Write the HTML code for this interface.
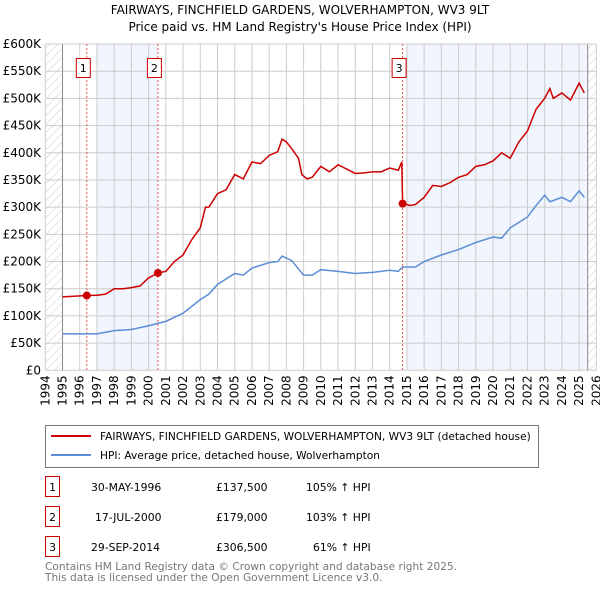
<!DOCTYPE html><html><head><meta charset="utf-8"><style>
body{margin:0;background:#fff;font-family:"Liberation Sans","DejaVu Sans",sans-serif}
</style></head><body>
<svg width="600" height="590" xmlns="http://www.w3.org/2000/svg" font-family="DejaVu Sans, Liberation Sans, sans-serif">
<defs><pattern id="h" width="6" height="6" patternUnits="userSpaceOnUse" patternTransform="rotate(45)"><line x1="0" y1="0" x2="0" y2="6" stroke="#ccc" stroke-width="1"/></pattern></defs>
<text x="300" y="14" text-anchor="middle" font-size="12">FAIRWAYS, FINCHFIELD GARDENS, WOLVERHAMPTON, WV3 9LT</text>
<text x="300" y="31" text-anchor="middle" font-size="12">Price paid vs. HM Land Registry's House Price Index (HPI)</text>
<g id="plot"></g>
<g>
<rect x="45.5" y="425.5" width="493" height="42" fill="#fff" stroke="#777"/>
<line x1="51" y1="436" x2="91" y2="436" stroke="#cc0000" stroke-width="2"/>
<text x="100" y="440" font-size="10.6">FAIRWAYS, FINCHFIELD GARDENS, WOLVERHAMPTON, WV3 9LT (detached house)</text>
<line x1="51" y1="455" x2="91" y2="455" stroke="#5b8ed6" stroke-width="2"/>
<text x="100" y="459" font-size="10.6">HPI: Average price, detached house, Wolverhampton</text>
</g>
<g font-size="10.8">
<rect x="45.5" y="476.5" width="14" height="20" fill="#fff" stroke="#cc0000"/><text x="52.5" y="491" text-anchor="middle">1</text>
<text x="91" y="491">30-MAY-1996</text><text x="216" y="491">£137,500</text><text x="306" y="491">105% ↑ HPI</text>
<rect x="45.5" y="506.5" width="14" height="20" fill="#fff" stroke="#cc0000"/><text x="52.5" y="521" text-anchor="middle">2</text>
<text x="95" y="521">17-JUL-2000</text><text x="216" y="521">£179,000</text><text x="306" y="521">103% ↑ HPI</text>
<rect x="45.5" y="536.5" width="14" height="20" fill="#fff" stroke="#cc0000"/><text x="52.5" y="551" text-anchor="middle">3</text>
<text x="91" y="551">29-SEP-2014</text><text x="216" y="551">£306,500</text><text x="313" y="551">61% ↑ HPI</text>
</g>
<text x="45" y="570" font-size="10.6" fill="#777">Contains HM Land Registry data © Crown copyright and database right 2025.</text>
<text x="45" y="581" font-size="10.6" fill="#777">This data is licensed under the Open Government Licence v3.0.</text>
</svg>
<script>
const yTicks=[0,50,100,150,200,250,300,350,400,450,500,550,600];
const yTickLabels=["£0","£50K","£100K","£150K","£200K","£250K","£300K","£350K","£400K","£450K","£500K","£550K","£600K"];
const xYears=[1994,1995,1996,1997,1998,1999,2000,2001,2002,2003,2004,2005,2006,2007,2008,2009,2010,2011,2012,2013,2014,2015,2016,2017,2018,2019,2020,2021,2022,2023,2024,2025,2026];
const redT=[1995.0,1996.41,1997,1997.5,1998,1998.5,1999,1999.5,2000,2000.54,2001,2001.5,2002,2002.5,2003,2003.3,2003.5,2004,2004.5,2005,2005.5,2006,2006.5,2007,2007.5,2007.75,2008,2008.3,2008.7,2008.9,2009.2,2009.5,2010,2010.5,2011,2011.5,2012,2012.5,2013,2013.5,2014,2014.5,2014.7,2014.75,2015.2,2015.5,2016,2016.5,2017,2017.5,2018,2018.5,2019,2019.5,2020,2020.5,2021,2021.5,2022,2022.5,2023,2023.3,2023.5,2024,2024.5,2025,2025.3];
const redV=[135,137.5,138,140,150,150,152,155,170,179,182,200,212,240,262,300,300,325,332,360,352,383,380,395,402,425,420,408,390,360,352,355,375,365,378,370,362,363,365,365,372,368,383,306.5,303,305,318,340,338,345,355,360,375,378,385,400,390,420,440,480,500,518,500,510,497,528,510];
const hpiT=[1995,1996,1997,1998,1999,2000,2000.5,2001,2002,2003,2003.5,2004,2005,2005.5,2006,2007,2007.5,2007.75,2008.3,2009,2009.5,2010,2011,2012,2013,2014,2014.5,2014.75,2015.5,2016,2017,2018,2019,2020,2020.5,2021,2022,2022.5,2023,2023.3,2024,2024.5,2025,2025.3];
const hpiV=[67,67,67,73,75,82,86,90,105,130,140,158,178,175,188,198,200,210,202,175,175,185,182,178,180,184,182,190,190,200,212,222,235,245,243,262,282,303,322,310,318,310,330,318];
const sales=[{n:"1",t:1996.41,v:137.5},{n:"2",t:2000.54,v:179},{n:"3",t:2014.75,v:306.5}];
const X=t=>45.3+(t-1994)*17.22, Y=v=>370.3-v*0.5438;
const NS="http://www.w3.org/2000/svg", g=document.getElementById('plot');
function mk(tag,a){const e=document.createElementNS(NS,tag);for(const k in a)e.setAttribute(k,a[k]);g.appendChild(e);return e;}
const L=46,R=596,T=44,B=370.3;
const hl=mk('rect',{x:L,y:T,width:X(1995)-L,height:B-T,fill:'url(#h)'});

const hr=mk('rect',{x:X(2025.5),y:T,width:R-X(2025.5),height:B-T,fill:'url(#h)'});

const s1=mk('rect',{x:X(1997),y:T,width:X(2000.54)-X(1997),height:B-T,fill:'#eef3fc',opacity:0.8});

const s2=mk('rect',{x:X(2015),y:T,width:X(2025.5)-X(2015),height:B-T,fill:'#eef3fc',opacity:0.8});

yTicks.forEach((v,i)=>{const l=mk('line',{x1:L,x2:R,y1:Y(v),y2:Y(v),stroke:'#ccc'});

const t=mk('text',{x:L-5,y:Y(v)+4,'text-anchor':'end','font-size':12});t.textContent=yTickLabels[i];
});
xYears.forEach(yr=>{const l=mk('line',{x1:X(yr),x2:X(yr),y1:T,y2:B,stroke:'#ccc'});

const t=mk('text',{x:0,y:0,'text-anchor':'end','font-size':12,transform:`translate(${X(yr)+4},${B+5}) rotate(-90)`});t.textContent=yr;
});
[X(1995),X(2025.5)].forEach(x=>{const l=mk('line',{x1:x,x2:x,y1:T,y2:B,stroke:'#888'});
});
sales.forEach(s=>{const l=mk('line',{x1:X(s.t),x2:X(s.t),y1:T,y2:B,stroke:'#e05555','stroke-dasharray':'2,2'});

const r=mk('rect',{x:X(s.t)-10.5,y:58.5,width:14,height:19,fill:'#fff',stroke:'#cc0000'});

const t=mk('text',{x:X(s.t)-3.5,y:72,'text-anchor':'middle','font-size':11});t.textContent=s.n;
});
const hp=mk('polyline',{points:hpiT.map((t,i)=>X(t)+','+Y(hpiV[i])).join(' '),fill:'none',stroke:'#5b8ed6','stroke-width':1.5});

const rp=mk('polyline',{points:redT.map((t,i)=>X(t)+','+Y(redV[i])).join(' '),fill:'none',stroke:'#cc0000','stroke-width':1.5});

sales.forEach(s=>{const c=mk('circle',{cx:X(s.t),cy:Y(s.v),r:4,fill:'#cc0000'});
});
</script>
</body></html>
